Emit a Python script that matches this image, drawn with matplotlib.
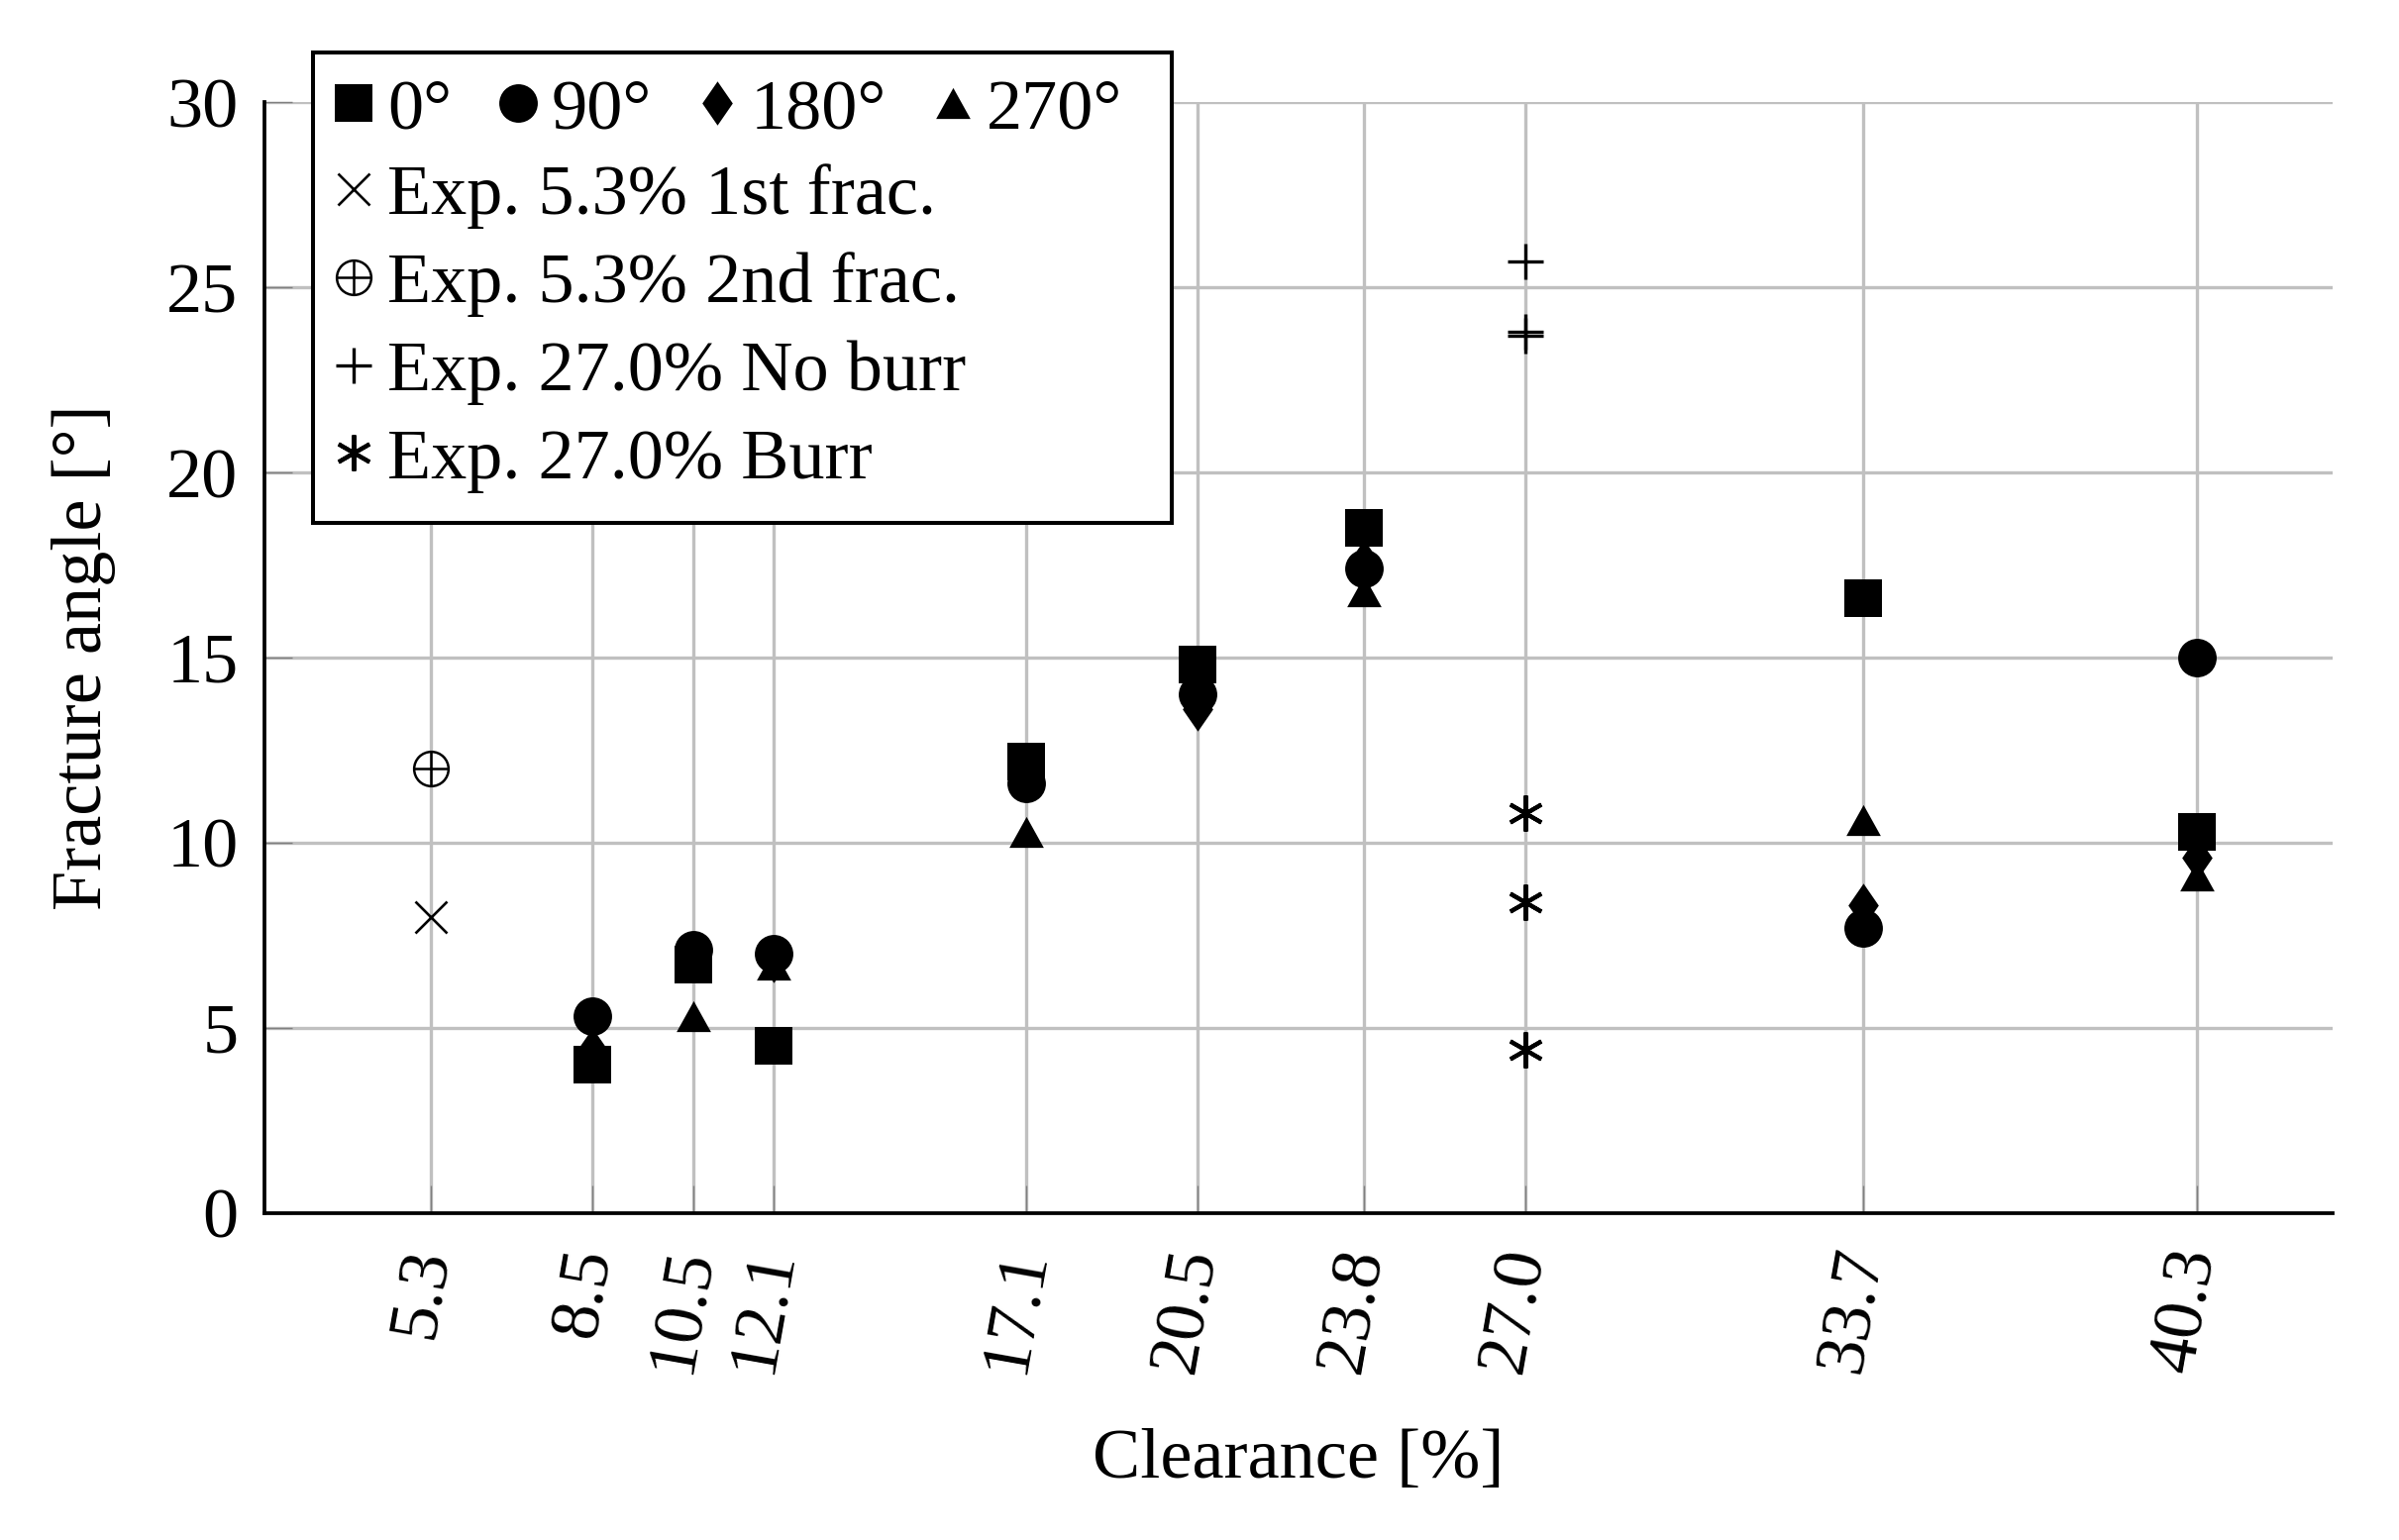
import matplotlib
matplotlib.use('Agg')
import matplotlib.pyplot as plt
from matplotlib.patches import Rectangle
from matplotlib.legend_handler import HandlerTuple

plt.rcParams['font.family'] = ['Liberation Serif', 'DejaVu Serif']

# ---------------- data ----------------
clearance_ticks = [5.3, 8.5, 10.5, 12.1, 17.1, 20.5, 23.8, 27.0, 33.7, 40.3]
clearance_tick_labels = ['5.3', '8.5', '10.5', '12.1', '17.1', '20.5', '23.8', '27.0', '33.7', '40.3']
y_ticks = [0, 5, 10, 15, 20, 25, 30]

sim_clearance = [8.5, 10.5, 12.1, 17.1, 20.5, 23.8, 33.7, 40.3]
angle_0 = [4.0, 6.7, 4.5, 12.2, 14.8, 18.5, 16.6, 10.3]
angle_90 = [5.3, 7.1, 7.0, 11.6, 14.0, 17.4, 7.7, 15.0]
angle_180 = [4.4, 6.9, 6.8, 11.9, 13.6, 17.6, 8.3, 9.6]
angle_270 = [4.4, 5.3, 6.7, 10.3, 14.3, 16.8, 10.6, 9.1]

exp53_first_x = [5.3]
exp53_first_y = [8.0]
exp53_second_x = [5.3]
exp53_second_y = [12.0]
exp27_noburr_x = [27.0, 27.0, 27.0]
exp27_noburr_y = [25.7, 23.8, 23.7]
exp27_burr_x = [27.0, 27.0, 27.0]
exp27_burr_y = [10.8, 8.4, 4.4]

sim_labels = ['0°', '90°', '180°', '270°']
exp_labels = ['Exp. 5.3% 1st frac.', 'Exp. 5.3% 2nd frac.',
              'Exp. 27.0% No burr', 'Exp. 27.0% Burr']

# ---------------- figure ----------------
FS = 52
fig = plt.figure(figsize=(24.22, 15.55), dpi=100)
ax = fig.add_axes([0.11024, 0.21254, 0.86210, 0.72103])
ax.set_xlim(2, 43)
ax.set_ylim(0, 30)

for s in ['top', 'right']:
    ax.spines[s].set_visible(False)
for s in ['left', 'bottom']:
    ax.spines[s].set_linewidth(2.7)
    ax.spines[s].set_color('black')

ax.set_axisbelow(True)
ax.grid(True, color='#c0c0c0', linewidth=2.4)
ax.set_xticks(clearance_ticks)
ax.set_xticklabels(clearance_tick_labels, rotation=80, ha='right', va='center',
                   rotation_mode='anchor')
ax.set_yticks(y_ticks)
ax.tick_params(axis='both', direction='in', length=20, width=1.0, color='#7f7f7f',
               labelsize=FS, labelcolor='black')
ax.tick_params(axis='x', pad=26)
ax.tick_params(axis='y', pad=19)

ax.set_xlabel('Clearance [%]', fontsize=FS)
ax.set_ylabel('Fracture angle [°]', fontsize=FS)
ax.xaxis.set_label_coords(0.5, -0.194)
ax.yaxis.set_label_coords(-0.072, 0.5)

diamond = [(0, 1), (0.69, 0), (0, -1), (-0.69, 0)]
triangle = [(0, 0.9), (1, -0.9), (-1, -0.9)]

h0, = ax.plot(sim_clearance, angle_0, linestyle='none', marker='s', ms=28,
              color='black', mew=0)
h90, = ax.plot(sim_clearance, angle_90, linestyle='none', marker='o', ms=28,
               color='black', mew=0)
h180, = ax.plot(sim_clearance, angle_180, linestyle='none', marker=diamond, ms=32,
                color='black', mew=0)
h270, = ax.plot(sim_clearance, angle_270, linestyle='none', marker=triangle, ms=25,
                color='black', mew=0)

hx, = ax.plot(exp53_first_x, exp53_first_y, linestyle='none', marker='x', ms=23,
              color='black', mew=1.9)
hoc, = ax.plot(exp53_second_x, exp53_second_y, linestyle='none', marker='o', ms=25,
               mfc='none', mec='black', mew=1.8)
hop, = ax.plot(exp53_second_x, exp53_second_y, linestyle='none', marker='+', ms=25,
               color='black', mew=1.8)
hp, = ax.plot(exp27_noburr_x, exp27_noburr_y, linestyle='none', marker='+', ms=26,
              color='black', mew=2.4)
ha, = ax.plot(exp27_burr_x, exp27_burr_y, linestyle='none', marker=(6, 2, 0), ms=26,
              color='black', mew=3.0)

# legend frame
frame = Rectangle((0.1305, 0.6605), 0.358, 0.3055, transform=fig.transFigure,
                  facecolor='white', edgecolor='black', linewidth=2.9, zorder=3)
fig.add_artist(frame)

legA = fig.legend([h0, h90, h180, h270], sim_labels, ncol=4, frameon=False,
                  fontsize=FS, handlelength=0.6, handletextpad=0.17,
                  columnspacing=0.62, borderpad=0, borderaxespad=0,
                  loc='center left', bbox_to_anchor=(0.1385, 0.9282),
                  bbox_transform=fig.transFigure)
legA.set_zorder(6)
legB = fig.legend([hx, (hoc, hop), hp, ha], exp_labels, ncol=1, frameon=False,
                  fontsize=FS, handlelength=0.6, handletextpad=0.17,
                  labelspacing=0.32, borderpad=0, borderaxespad=0,
                  loc='center left', bbox_to_anchor=(0.1385, 0.7867),
                  bbox_transform=fig.transFigure,
                  handler_map={tuple: HandlerTuple(ndivide=1, pad=0)})
legB.set_zorder(6)

fig.savefig('out.png', dpi=100, facecolor='white')
